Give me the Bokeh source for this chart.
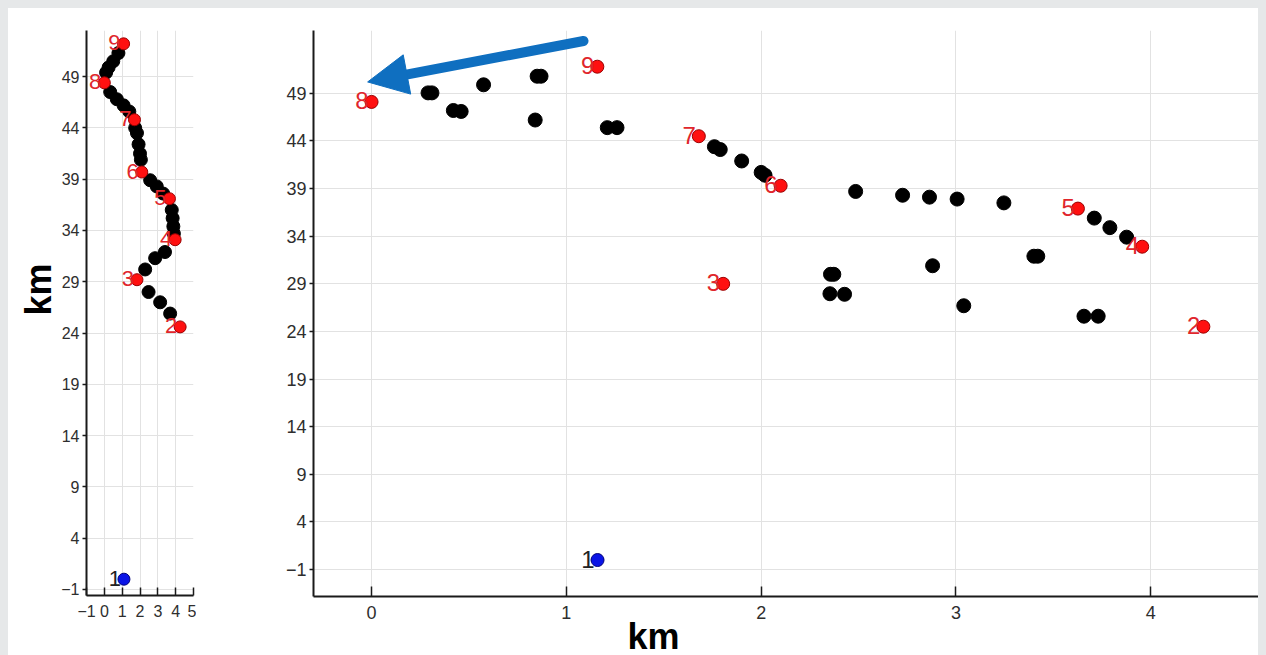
import math
from bokeh.plotting import figure
from bokeh.models import (ColumnDataSource, FixedTicker, Arrow, NormalHead,
                          LabelSet, Range1d, Title)
from bokeh.layouts import row
from bokeh.embed import file_html
from bokeh.resources import INLINE
from bokeh.core.properties import value

# ---------------- data ----------------
station_names = ["1", "2", "3", "4", "5", "6", "7", "8", "9"]

# left (narrow) panel
left_station_x = [1.10, 4.25, 1.83, 3.97, 3.65, 2.10, 1.69, 0.00, 1.08]
left_station_y = [0.0, 24.6, 29.2, 33.1, 37.1, 39.7, 44.8, 48.4, 52.2]
left_track_x = [0.79, 0.50, 0.24, 0.10, 0.33, 0.70, 1.08, 1.40, 1.73, 1.83,
                1.92, 2.00, 2.05, 2.57, 2.94, 3.30, 3.78, 3.83, 3.87, 3.90,
                3.40, 2.85, 2.29, 2.48, 3.13, 3.69]
left_track_y = [51.3, 50.5, 49.9, 49.4, 47.5, 46.8, 46.2, 45.6, 44.0, 43.5,
                42.4, 41.5, 40.9, 38.9, 38.3, 37.6, 36.0, 35.2, 34.4, 33.7,
                31.9, 31.3, 30.2, 28.0, 27.0, 25.9]

# right (wide) panel
right_station_x = [1.16, 4.27, 1.805, 3.956, 3.626, 2.10, 1.68, 0.00, 1.159]
right_station_y = [0.0, 24.5, 29.0, 32.9, 36.9, 39.3, 44.5, 48.1, 51.8]
right_track_x = [0.29, 0.31, 0.42, 0.46, 0.575, 0.84, 0.85, 0.87, 1.21, 1.26,
                 1.76, 1.79, 1.90, 2.00, 2.02, 2.485, 2.726, 2.864, 3.006, 3.246,
                 3.71, 3.79, 3.876, 3.40, 3.42, 2.88, 2.356, 2.373, 2.353, 2.428,
                 3.04, 3.657, 3.73]
right_track_y = [49.05, 49.05, 47.2, 47.1, 49.9, 46.2, 50.8, 50.8, 45.4, 45.4,
                 43.4, 43.1, 41.9, 40.7, 40.4, 38.7, 38.3, 38.1, 37.9, 37.5,
                 35.9, 34.9, 33.9, 31.9, 31.9, 30.9, 30.0, 30.0, 27.96, 27.9,
                 26.7, 25.6, 25.6]

left_xticks = [-1, 0, 1, 2, 3, 4, 5]
right_xticks = [0, 1, 2, 3, 4]
yticks = [-1, 4, 9, 14, 19, 24, 29, 34, 39, 44, 49]

arrow_start = (1.088, 54.5)
arrow_end = (-0.02, 50.2)

FONT = "Liberation Sans"
RED = "#ff1010"
RED_EDGE = "#9a0000"
RED_TEXT = "#e0262c"
BLUE = "#0a14e6"
ARROW_BLUE = "#0f6fc0"


def style(p, xticks, x_tick_in, tick_font):
    xt = FixedTicker(ticks=xticks)
    yt = FixedTicker(ticks=yticks)
    p.xaxis.ticker = xt
    p.xgrid.ticker = xt
    p.yaxis.ticker = yt
    p.ygrid.ticker = yt
    for ax in p.axis:
        ax.axis_line_color = "#1a1a1a"
        ax.axis_line_width = 2
        ax.major_tick_line_color = "#1a1a1a"
        ax.major_tick_line_width = 1.5
        ax.minor_tick_line_color = None
        ax.major_label_text_font = FONT
        ax.major_label_text_font_size = tick_font
        ax.major_label_text_color = "#2e2e2e"
    p.xaxis.major_tick_in = x_tick_in
    p.xaxis.major_tick_out = 0
    p.xaxis.major_label_standoff = 9
    p.yaxis.major_tick_in = 0
    p.yaxis.major_tick_out = 4
    p.yaxis.major_label_standoff = 3
    p.grid.grid_line_color = "#e2e2e2"
    p.grid.grid_line_width = 1
    p.outline_line_color = None
    p.background_fill_color = "white"
    p.border_fill_color = "white"


def draw(p, sx, sy, tx, ty, dot, rdot, lab_size):
    p.scatter(tx, ty, size=dot, fill_color="black", line_color="black")
    red = ColumnDataSource(dict(x=sx[1:], y=sy[1:], t=station_names[1:]))
    blue = ColumnDataSource(dict(x=sx[:1], y=sy[:1], t=station_names[:1]))
    p.scatter("x", "y", source=red, size=rdot, fill_color=RED,
              line_color=RED_EDGE, line_width=1)
    p.scatter("x", "y", source=blue, size=rdot, fill_color=BLUE,
              line_color="#00007a", line_width=1)
    p.add_layout(LabelSet(x="x", y="y", text="t", source=red, x_offset=-3,
                          y_offset=1, text_align="right", text_baseline="middle",
                          text_font=value(FONT), text_font_size=lab_size,
                          text_color=RED_TEXT))
    p.add_layout(LabelSet(x="x", y="y", text="t", source=blue, x_offset=-3,
                          y_offset=1, text_align="right", text_baseline="middle",
                          text_font=value(FONT), text_font_size=lab_size,
                          text_color="#222222"))


# ---------------- left panel ----------------
p1 = figure(frame_width=107, frame_height=565,
            x_range=Range1d(-1.0, 5.0), y_range=Range1d(-1.59, 53.5),
            min_border_left=78, min_border_right=3, min_border_top=22,
            min_border_bottom=60, output_backend="svg", toolbar_location=None)
style(p1, left_xticks, 8, "16px")
draw(p1, left_station_x, left_station_y, left_track_x, left_track_y, 13, 12, "22px")
p1.add_layout(Title(text="km", align="left", offset=280, standoff=0,
                    text_font=FONT, text_font_size="36px",
                    text_font_style="bold", text_color="black"), "left")

# ---------------- right panel ----------------
FW, FH = 945, 566
xr = Range1d(-0.298, 4.553)
yr = Range1d(-3.83, 55.6)
p2 = figure(frame_width=FW, frame_height=FH, x_range=xr, y_range=yr,
            min_border_left=117, min_border_right=0, min_border_top=19,
            min_border_bottom=62, output_backend="svg", toolbar_location=None)
style(p2, right_xticks, 10, "18px")
draw(p2, right_station_x, right_station_y, right_track_x, right_track_y, 14, 13, "24px")

# arrow: shaft stops inside the head so it does not poke past the tip
sx_px = FW / (xr.end - xr.start)
sy_px = FH / (yr.end - yr.start)
dxp = (arrow_end[0] - arrow_start[0]) * sx_px
dyp = (arrow_end[1] - arrow_start[1]) * sy_px
L = math.hypot(dxp, dyp)
back = 22.0
shaft_end = (arrow_end[0] - dxp / L * back / sx_px,
             arrow_end[1] - dyp / L * back / sy_px)
p2.segment(x0=[arrow_start[0]], y0=[arrow_start[1]], x1=[shaft_end[0]],
           y1=[shaft_end[1]], line_color=ARROW_BLUE, line_width=10,
           line_cap="round")
p2.add_layout(Arrow(end=NormalHead(size=40, fill_color=ARROW_BLUE,
                                   line_color=ARROW_BLUE, line_width=1),
                    x_start=arrow_start[0], y_start=arrow_start[1],
                    x_end=arrow_end[0], y_end=arrow_end[1],
                    line_alpha=0.0, line_width=1))
p2.add_layout(Title(text="km", align="left", offset=314, standoff=-16,
                    text_font=FONT, text_font_size="36px",
                    text_font_style="bold", text_color="black"), "below")

layout = row(p1, p2, styles={"background-color": "white"})
html = file_html(layout, INLINE)
html = html.replace("</head>",
                    "<style>body{background:#e6e8e9;margin:8px;overflow:hidden;}</style></head>")
open("out.html", "w").write(html)
